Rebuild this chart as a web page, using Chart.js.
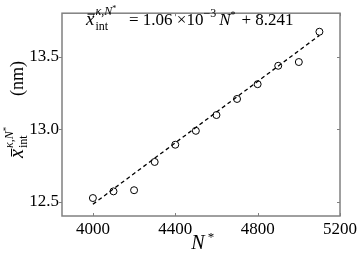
<!DOCTYPE html>
<html lang="en">
<head>
  <meta charset="UTF-8" />
  <title>fit</title>
  <script src="https://cdn.jsdelivr.net/npm/chart.js"></script>
  <style>
    html, body { margin: 0; padding: 0; background: #fff; }
    #wrap { width: 360px; height: 253px; }
  </style>
</head>
<body>
  <div id="wrap"><canvas id="myChart" width="360" height="253"></canvas></div>
<script>
  // dados
  const nValores = [4000, 4100, 4200, 4300, 4400, 4500, 4600, 4700, 4800, 4900, 5000, 5100];
  const xMedio = [12.524, 12.570, 12.578, 12.773, 12.892, 12.988, 13.097, 13.208, 13.310, 13.437, 13.463, 13.672];
  const ajusteN = [4000, 5100];
  const ajusteX = [12.481, 13.647];
  const xTicks = [4000, 4400, 4800, 5200];
  const yTicks = [12.5, 13.0, 13.5];

  const serif = "Liberation Serif";
  const corEixo = '#808080';

  Chart.defaults.font.family = serif;
  Chart.defaults.color = '#000';

  // caixa do grafico e tiques
  const caixa = {
    id: 'caixa',
    afterDraw(chart) {
      const ctx = chart.ctx;
      const a = chart.chartArea;
      const sx = chart.scales.x, sy = chart.scales.y;
      ctx.save();
      ctx.strokeStyle = corEixo;
      ctx.lineWidth = 1.5;
      ctx.strokeRect(a.left, a.top, a.right - a.left, a.bottom - a.top);
      ctx.lineWidth = 1;
      ctx.beginPath();
      xTicks.forEach(function (v) {
        const px = Math.round(sx.getPixelForValue(v)) + 0.5;
        ctx.moveTo(px, a.bottom); ctx.lineTo(px, a.bottom - 3);
        ctx.moveTo(px, a.top); ctx.lineTo(px, a.top + 3);
      });
      yTicks.forEach(function (v) {
        const py = Math.round(sy.getPixelForValue(v)) + 0.5;
        ctx.moveTo(a.left, py); ctx.lineTo(a.left - 3, py);
        ctx.moveTo(a.right, py); ctx.lineTo(a.right - 3, py);
      });
      ctx.stroke();
      ctx.restore();
    }
  };

  // x com barra em cima
  function xBarra(ctx, x, y, t) {
    ctx.font = 'italic ' + t + 'px ' + serif;
    ctx.fillText('x', x, y);
    const w = ctx.measureText('x').width;
    ctx.fillRect(x + 1.5, y - t * 0.6, w - 1, 1);
    return w;
  }

  // titulo do eixo y, equacao e titulo do eixo x
  const textos = {
    id: 'textos',
    afterDraw(chart) {
      const ctx = chart.ctx;
      ctx.save();
      ctx.fillStyle = '#000';
      ctx.textBaseline = 'alphabetic';
      ctx.textAlign = 'left';

      ctx.save();
      ctx.translate(23, 158);
      ctx.rotate(-Math.PI / 2);
      let w = xBarra(ctx, 0, 0, 20);
      ctx.font = '12px ' + serif;
      ctx.fillText('int', w + 1, 4);
      ctx.font = 'italic 12px ' + serif;
      ctx.fillText('\u03BA,N', w + 1, -10);
      let w2 = ctx.measureText('\u03BA,N').width;
      ctx.font = '9px ' + serif;
      ctx.fillText('*', w + 1 + w2, -14);
      ctx.font = '18px ' + serif;
      ctx.fillText('(nm)', 62, 0);
      ctx.restore();

      const y0 = 25;
      const x0 = 86;
      w = xBarra(ctx, x0, y0, 19);
      ctx.font = '12px ' + serif;
      ctx.fillText('int', x0 + w + 1, y0 + 5);
      ctx.font = 'italic 12px ' + serif;
      ctx.fillText('\u03BA,N', x0 + w + 1, y0 - 10);
      w2 = ctx.measureText('\u03BA,N').width;
      ctx.font = '8px ' + serif;
      ctx.fillText('*', x0 + w + 1 + w2, y0 - 14);
      ctx.font = '17px ' + serif;
      ctx.fillText('= 1.06 \u00D710', 129, y0);
      let p = 129 + ctx.measureText('= 1.06 \u00D710').width;
      ctx.font = '12px ' + serif;
      ctx.fillText('\u22123', p, y0 - 8);
      p += ctx.measureText('\u22123').width + 3;
      ctx.font = 'italic 17px ' + serif;
      ctx.fillText('N', p, y0);
      p += ctx.measureText('N').width;
      ctx.font = '10px ' + serif;
      ctx.fillText('*', p, y0 - 7);
      p += 11;
      ctx.font = '17px ' + serif;
      ctx.fillText('+ 8.241', p, y0);

      ctx.font = 'italic 20px ' + serif;
      ctx.textAlign = 'center';
      ctx.fillText('N', 198, 249);
      ctx.font = '13px ' + serif;
      ctx.fillText('*', 211, 241);
      ctx.restore();
    }
  };

  const pontos = nValores.map(function (n, i) { return { x: n, y: xMedio[i] }; });
  const ajuste = ajusteN.map(function (n, i) { return { x: n, y: ajusteX[i] }; });

  const config = {
    type: 'scatter',
    data: {
      datasets: [{
        label: 'dados',
        data: pontos,
        showLine: false,
        pointStyle: 'circle',
        pointRadius: 3.5,
        pointBorderWidth: 1,
        borderColor: '#000',
        backgroundColor: 'rgba(0,0,0,0)'
      },
      {
        label: 'ajuste',
        data: ajuste,
        showLine: true,
        borderColor: '#000',
        borderWidth: 1.3,
        borderDash: [4, 3],
        pointRadius: 0,
        fill: false
      }]
    },
    options: {
      responsive: false,
      animation: false,
      layout: { padding: { left: 0, right: 19, top: 1, bottom: 0 } },
      plugins: { legend: { display: false }, tooltip: { enabled: false } },
      scales: {
        x: {
          type: 'linear',
          min: 3850,
          max: 5200,
          grid: { display: false, drawTicks: false },
          border: { display: false },
          afterBuildTicks: function (s) { s.ticks = xTicks.map(function (v) { return { value: v }; }); },
          afterFit: function (s) { s.height = 37; },
          ticks: {
            color: '#000',
            padding: 3,
            maxRotation: 0,
            font: { family: serif, size: 17 },
            callback: function (v) { return String(v); }
          }
        },
        y: {
          type: 'linear',
          min: 12.4,
          max: 13.8,
          grid: { display: false, drawTicks: false },
          border: { display: false },
          afterBuildTicks: function (s) { s.ticks = yTicks.map(function (v) { return { value: v }; }); },
          afterFit: function (s) { s.width = 62; },
          ticks: {
            color: '#000',
            padding: 3,
            font: { family: serif, size: 17 },
            callback: function (v) { return Number(v).toFixed(1); }
          }
        }
      }
    },
    plugins: [caixa, textos]
  };

  let myChart = new Chart(document.getElementById('myChart'), config);
</script>
</body>
</html>
